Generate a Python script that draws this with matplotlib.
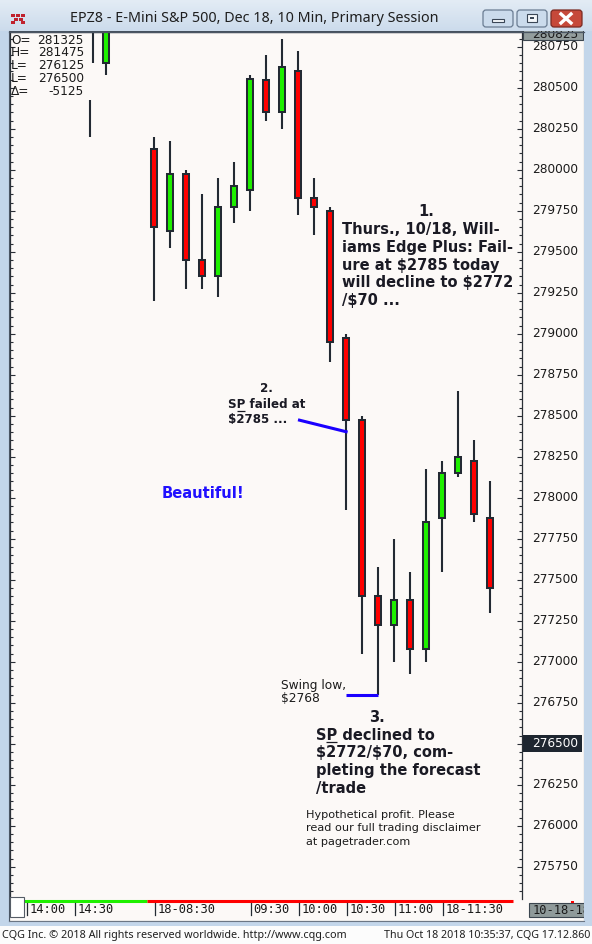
import numpy as np
import matplotlib
matplotlib.use('Agg')
import matplotlib.pyplot as plt
from matplotlib.patches import Rectangle, FancyBboxPatch
from matplotlib.transforms import blended_transform_factory

W, H = 592, 944

# 10 minute bars, slot 0 = last visible bar of Oct 17 session
slots = [-0.8, 0, 3, 4, 5, 6, 7, 8, 9, 10, 11, 12, 13, 14, 15, 16, 17, 18, 19, 20, 21, 22, 23, 24]
opens = [281000, 280650, 280125, 279625, 279975, 279450, 279350, 279775, 279875, 280550, 280350, 280600,
         279825, 279750, 278975, 278475, 277400, 277225, 277375, 277075, 277875, 278150, 278225, 277875]
highs = [281050, 281000, 280200, 280175, 280000, 279850, 279950, 280050, 280575, 280700, 280800, 280725,
         279950, 279775, 279000, 278500, 277575, 277750, 277550, 278175, 278225, 278650, 278350, 278100]
lows = [280650, 280575, 279200, 279525, 279275, 279275, 279225, 279675, 279750, 280300, 280250, 279725,
        279600, 278825, 277925, 277050, 276800, 277000, 276925, 277000, 277550, 278125, 277850, 277300]
closes = [280950, 280925, 279650, 279975, 279450, 279350, 279775, 279900, 280550, 280350, 280625, 279825,
          279775, 278950, 278475, 277400, 277225, 277375, 277075, 277850, 278150, 278250, 277900, 277450]

# lone wick left of the session gap
stub_slot = [-1]
stub_top = [280425]
stub_bottom = [280200]

price_ticks = np.arange(275750, 280751, 250)
time_slots = [-5, -2, 3, 9, 12, 15, 18, 21]
time_labels = ['14:00', '14:30', '18-08:30', '09:30', '10:00', '10:30', '11:00', '18-11:30']

ohlc_names = ['O=', 'H=', 'L=', 'L=', '\u0394=']
ohlc_values = ['281325', '281475', '276125', '276500', '-5125']
last_price = 276500
top_price = 280825

# annotation pointer lines (slot, price)
fail_x = [12.0, 15.1]
fail_y = [278475, 278400]
swing_x = [15.0, 17.0]
swing_y = [276800, 276800]

UP = '#1ff000'
DOWN = '#ff0000'
EDGE = '#232a33'
PANEL = '#fcf9f7'
FRAME = '#c3d6ea'
TXT = '#1b1b1b'
BLUE = '#1a00ff'

plt.rcParams['font.family'] = ['DejaVu Sans']
plt.rcParams['text.parse_math'] = False

fig = plt.figure(figsize=(W / 100, H / 100), dpi=100)
fig.patch.set_facecolor(FRAME)

# background panel (pixel coords)
bg = fig.add_axes([0, 0, 1, 1], zorder=-1)
bg.set_xlim(0, W)
bg.set_ylim(H, 0)
bg.axis('off')
bg.add_patch(Rectangle((9, 31), 575, 890, facecolor=PANEL, edgecolor='#4b5664', lw=0.8))
bg.add_patch(Rectangle((0, 926), W, 18, facecolor='#fcfcfc', edgecolor='none'))

# main chart
top_px, bot_px = 32, 899
ax = fig.add_axes([10 / W, 1 - bot_px / H, 512 / W, (bot_px - top_px) / H], zorder=1)
ax.set_facecolor(PANEL)
upp = 1 / 0.164
ymax = 280750 + (46.7 - top_px) * upp
ymin = 280750 - (bot_px - 46.7) * upp
ax.set_ylim(ymin, ymax)
ax.set_xlim(-6, 26)

o = np.array(opens)
c = np.array(closes)
cols = [UP if cc > oo else DOWN for oo, cc in zip(o, c)]
ax.vlines(slots, lows, highs, color=EDGE, lw=1.5, zorder=2)
ax.vlines(stub_slot, stub_bottom, stub_top, color=EDGE, lw=1.5, zorder=2)
ax.bar(slots, np.abs(c - o), bottom=np.minimum(o, c), width=0.36, color=cols,
       edgecolor=EDGE, linewidth=1.45, zorder=3)

for side in ['left', 'top', 'right']:
    ax.spines[side].set_color('#2a2f36')
    ax.spines[side].set_linewidth(0.9)
ax.spines['bottom'].set_visible(False)

ax.set_xticks([])
ax.set_yticks(price_ticks)
ax.set_yticks(np.arange(275600, 280840, 50), minor=True)
ax.tick_params(axis='y', which='both', direction='in', left=True, right=True,
               labelleft=False, labelright=False, color='#2a2f36', width=0.8)
ax.tick_params(axis='y', which='major', length=3.8)
ax.tick_params(axis='y', which='minor', length=2.2)

ty = blended_transform_factory(ax.transAxes, ax.transData)
tx = blended_transform_factory(ax.transData, ax.transAxes)
ah = bot_px - top_px

# right price labels
for p in price_ticks:
    ax.text(1 + 10 / 512, p, str(p), transform=ty, ha='left', va='center',
            fontsize=8.7, color=TXT, clip_on=False)
ax.add_patch(Rectangle((1 + 1 / 512, last_price - 8.5 * upp), 59 / 512, 17 * upp, transform=ty,
                       facecolor='#1e2630', edgecolor='none', clip_on=False, zorder=4))
ax.text(1 + 10 / 512, last_price, str(last_price), transform=ty, ha='left', va='center',
        fontsize=8.7, color='white', clip_on=False, zorder=5)
ax.add_patch(Rectangle((1 + 1 / 512, top_price - 5.5 * upp), 60 / 512, 12 * upp, transform=ty,
                       facecolor='#939d9d', edgecolor='#3c4650', lw=0.8, clip_on=False, zorder=4))
ax.text(1 + 10 / 512, top_price, str(top_price), transform=ty, ha='left', va='center',
        fontsize=8.7, color=TXT, clip_on=False, zorder=5)

# time axis
sess_split = 2.56
ax.plot([-5.125, sess_split], [-1.5 / ah] * 2, transform=tx, color=UP, lw=2.2,
        solid_capstyle='butt', clip_on=False)
ax.plot([sess_split, 25.44], [-1.5 / ah] * 2, transform=tx, color=DOWN, lw=2.2,
        solid_capstyle='butt', clip_on=False)
for s, lbl in zip(time_slots, time_labels):
    ax.plot([s + 0.05] * 2, [-4 / ah, -16 / ah], transform=tx, color=EDGE, lw=0.9, clip_on=False)
    ax.text(s + 0.2, -10.5 / ah, lbl, transform=tx, ha='left', va='center', family='DejaVu Sans Mono',
            fontsize=8.7, color=TXT, clip_on=False)
ax.add_patch(Rectangle((1 + 7 / 512, -18 / ah), 70 / 512, 14 / ah, transform=ax.transAxes,
                       facecolor='#8f9a9a', edgecolor='#3c4650', lw=0.8, clip_on=False, zorder=4))
ax.text(1 + 11 / 512, -11 / ah, '10-18-18', transform=ax.transAxes, ha='left', va='center',
        family='DejaVu Sans Mono', fontsize=8.7, color=TXT, clip_on=False, zorder=5)

# pointer lines
ax.plot(fail_x, fail_y, color=BLUE, lw=2.2, solid_capstyle='butt', zorder=4)
ax.plot(swing_x, swing_y, color=BLUE, lw=2.2, solid_capstyle='butt', zorder=4)

# overlay in pixel coords
ov = fig.add_axes([0, 0, 1, 1], zorder=10)
ov.set_xlim(0, W)
ov.set_ylim(H, 0)
ov.axis('off')
ov.patch.set_alpha(0)

grad = np.linspace(0, 1, 31).reshape(-1, 1)
top_c = np.array([0.89, 0.925, 0.96])
bot_c = np.array([0.80, 0.86, 0.925])
img = top_c + (bot_c - top_c) * grad[:, :, None]
img = np.repeat(img, 2, axis=1)
ov.imshow(img, extent=[0, W, 31, 0], aspect='auto', zorder=1)
ov.add_patch(Rectangle((584, 31), 8, 895, facecolor=FRAME, edgecolor='none', zorder=1))
ov.add_patch(Rectangle((0, 921), W, 5, facecolor=FRAME, edgecolor='none', zorder=1))
ov.add_patch(Rectangle((0, 31), 9, 895, facecolor=FRAME, edgecolor='none', zorder=1))
ov.plot([9, 584], [31.5, 31.5], color='#4b5664', lw=0.9, zorder=2)
ov.plot([9, 9], [31, 921], color='#4b5664', lw=0.8, zorder=2)
ov.plot([9, 584], [921, 921], color='#6b7684', lw=0.8, zorder=2)

# title
ov.text(254, 19, 'EPZ8 - E-Mini S&P 500, Dec 18, 10 Min, Primary Session', ha='center', va='center',
        fontsize=10.3, family='Noto Sans', color='#1e1e1e', zorder=3)
# icon
for ix, iy in [(11, 14), (16, 14), (21, 14), (13.5, 18), (18.5, 18), (11, 21), (21, 21)]:
    ov.add_patch(Rectangle((ix, iy), 4, 3, facecolor='#c0222e', edgecolor='none', zorder=3))
# window buttons
for bx, bw, fc, ec in [(483, 30, '#cbdbec', '#6a7c92'), (517, 30, '#cbdbec', '#6a7c92'),
                       (551, 31, '#c6493a', '#7a2a22')]:
    ov.add_patch(FancyBboxPatch((bx, 10), bw, 17, boxstyle='round,pad=0,rounding_size=3',
                                facecolor=fc, edgecolor=ec, lw=0.9, zorder=3))
ov.add_patch(Rectangle((492, 19), 12, 3, facecolor='#f4f7fb', edgecolor='#3a4656', lw=0.8, zorder=4))
ov.add_patch(Rectangle((527, 14), 10, 8, facecolor='#f4f7fb', edgecolor='#3a4656', lw=0.8, zorder=4))
ov.add_patch(Rectangle((530, 17), 4, 2, facecolor='#3a4656', edgecolor='none', zorder=5))
ov.plot([561, 571], [14, 23], color='white', lw=2.4, zorder=4)
ov.plot([561, 571], [23, 14], color='white', lw=2.4, zorder=4)

# scroll box left of time axis
ov.add_patch(Rectangle((10, 897), 14, 20, facecolor='white', edgecolor='#555c66', lw=0.8, zorder=3))
ov.add_patch(Rectangle((571, 900.5), 3, 2.5, facecolor='red', edgecolor='none', zorder=3))

# OHLC box
for i, (nm, val) in enumerate(zip(ohlc_names, ohlc_values)):
    yy = 40 + i * 12.8
    ov.text(11, yy, nm, ha='left', va='center', fontsize=8.7, color=TXT, zorder=3)
    ov.text(84, yy, val, ha='right', va='center', fontsize=8.7, color=TXT, zorder=3)

renderer = fig.canvas.get_renderer()


def text_width(s, **kw):
    t = ov.text(0, 0, s, **kw)
    w = t.get_window_extent(renderer).width
    t.remove()
    return w


def sp_line(x, y, rest, kw, cap):
    # "SP" with the P underlined (Windows mnemonic of S&P)
    ov.text(x, y, 'SP' + rest, **kw)
    x0 = x + text_width('S', **kw)
    x1 = x + text_width('SP', **kw)
    base = y + cap / 2 + 1.3
    ov.plot([x0, x1], [base, base], color=kw['color'], lw=0.9, zorder=3, solid_capstyle='butt')


# annotations
ann = dict(ha='left', va='center', fontsize=10.5, fontweight='bold', color='#1a1a24', zorder=3)
ov.text(426, 211, '1.', **{**ann, 'ha': 'center'})
for yy, s in zip([229, 247.3, 265.3, 283, 301],
                 ['Thurs., 10/18, Will-', 'iams Edge Plus: Fail-', 'ure at $2785 today',
                  'will decline to $2772', '/$70 ...']):
    ov.text(342, yy, s, **ann)

ann2 = dict(ha='left', va='center', fontsize=8.6, fontweight='bold', color='#1a1a24', zorder=3)
ov.text(266.7, 388, '2.', **{**ann2, 'ha': 'center'})
sp_line(228, 405, ' failed at', ann2, 8.7)
ov.text(228, 420, '$2785 ...', **ann2)

ov.text(161.5, 494, 'Beautiful!', ha='left', va='center', fontsize=10.6, fontweight='bold',
        color='#2010ff', zorder=3)

ov.text(280.7, 685, 'Swing low,', ha='left', va='center', fontsize=8.8, color=TXT, zorder=3)
ov.text(280.7, 699, '$2768', ha='left', va='center', fontsize=8.8, color=TXT, zorder=3)

ov.text(377.3, 717, '3.', **{**ann, 'ha': 'center'})
sp_line(315.7, 735, ' declined to', ann, 10.6)
for yy, s in zip([753, 770.7, 788.3], ['$2772/$70, com-', 'pleting the forecast', '/trade']):
    ov.text(315.7, yy, s, **ann)

for yy, s in zip([815, 828, 842],
                 ['Hypothetical profit. Please', 'read our full trading disclaimer', 'at pagetrader.com']):
    ov.text(306, yy, s, ha='left', va='center', fontsize=8.1, color=TXT, zorder=3)

# footer
ov.text(2, 935.5, 'CQG Inc. \u00a9 2018 All rights reserved worldwide. http://www.cqg.com', ha='left',
        va='center', fontsize=7.8, family='Noto Sans', color='#1e1e1e', zorder=3)
ov.text(590, 935.5, 'Thu Oct 18 2018 10:35:37, CQG 17.12.860', ha='right', va='center',
        fontsize=7.7, family='Noto Sans', color='#1e1e1e', zorder=3)

fig.savefig('out.png', dpi=100, facecolor=fig.get_facecolor())
